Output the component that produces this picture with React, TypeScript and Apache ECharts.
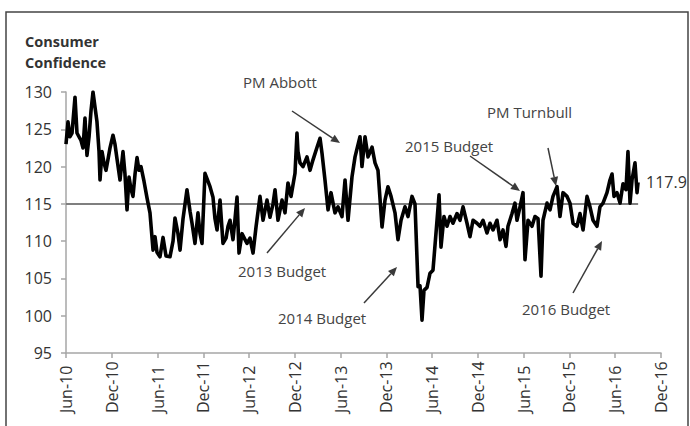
import React, { useEffect, useRef } from "react";
import * as echarts from "echarts";

// Months elapsed since June 2010 (weekly survey readings, sampled)
const months = [
  0, 0.26, 0.52, 0.79, 1.18, 1.44, 1.7, 1.97, 2.23, 2.49, 2.75, 3.02, 3.28, 3.54, 3.8, 4.06, 4.33, 4.46,
  4.72, 4.98, 5.24, 5.51, 5.77, 6.16, 6.42, 6.69, 7.08, 7.47, 7.73, 8.0, 8.26, 8.52, 8.78, 9.05, 9.31,
  9.57, 9.83, 10.23, 10.62, 11.01, 11.41, 11.67, 11.93, 12.32, 12.72, 13.11, 13.63, 14.03, 14.29, 14.68,
  14.95, 15.34, 15.86, 16.26, 16.52, 16.91, 17.3, 17.57, 17.83, 18.22, 18.62, 18.88, 19.27, 19.53, 19.8,
  20.19, 20.58, 20.98, 21.24, 21.5, 21.89, 22.16, 22.42, 22.68, 23.07, 23.47, 23.73, 24.12, 24.52, 24.91,
  25.43, 25.83, 26.35, 26.74, 27.14, 27.4, 27.79, 28.32, 28.71, 29.1, 29.5, 30.02, 30.28, 30.41, 30.68,
  31.07, 31.59, 31.99, 32.38, 32.91, 33.3, 33.56, 33.95, 34.35, 34.74, 35.26, 35.66, 36.18, 36.58, 36.97,
  37.49, 37.89, 38.54, 38.8, 39.2, 39.59, 40.12, 40.51, 40.9, 41.43, 41.82, 42.21, 42.61, 43.13, 43.52,
  43.92, 44.44, 44.83, 45.36, 45.75, 46.15, 46.41, 46.67, 46.93, 47.33, 47.72, 48.11, 48.64, 48.9, 49.16,
  49.55, 49.95, 50.34, 50.73, 51.26, 51.65, 52.05, 52.57, 52.96, 53.36, 53.88, 54.27, 54.67, 55.19, 55.58,
  55.98, 56.5, 56.9, 57.29, 57.68, 57.94, 58.47, 58.86, 59.12, 59.52, 59.91, 60.17, 60.57, 61.09, 61.48,
  61.88, 62.27, 62.53, 63.06, 63.45, 63.84, 64.37, 64.76, 65.15, 65.68, 66.07, 66.47, 66.99, 67.38, 67.78,
  68.3, 68.69, 69.09, 69.61, 70.0, 70.4, 70.92, 71.31, 71.58, 71.84, 72.23, 72.63, 73.02, 73.41, 73.67,
  73.94, 74.2, 74.59, 74.86, 74.99,
];

// Consumer confidence index readings
const values = [
  123, 126, 124, 124.5, 129.3, 124.5, 124, 123.5, 122.5, 126.5, 121.5, 124, 127.5, 130, 128, 126, 122, 118.2,
  122, 120.5, 119.5, 121, 122.5, 124.2, 123, 121, 118.2, 122, 119, 114.2, 118.6, 117, 116, 119, 121.2,
  119.5, 120, 118, 115.8, 113.8, 108.8, 110.6, 108.5, 107.9, 110.5, 108, 107.9, 110, 113.1, 111,
  108.8, 113, 116.9, 114, 112.4, 109.7, 113.8, 111, 109.7, 119.1, 118, 117.3, 115.9, 113, 111.5,
  115.5, 109.7, 110.4, 112, 112.8, 110.2, 113, 115.9, 108.4, 111, 110.2, 109.7, 110.4, 108.4, 111.9,
  116, 112.8, 115.5, 113.2, 115, 116.9, 112.8, 115.5, 113.8, 117.8, 116, 119.1, 124.5, 122, 120.5,
  120, 121.3, 119.5, 120.9, 122.6, 123.8, 121.8, 118.2, 114.2, 116.5, 113.8, 114.6, 113.3, 118.2, 112.8,
  118.6, 121.3, 124, 120, 124, 121.3, 122.6, 120.5, 119.5, 111.9, 115.5, 117.3, 116, 113.8, 110.2,
  112.8, 114.6, 113.3, 116, 115, 103.9, 104, 99.4, 103.4, 103.8, 105.7, 106.1, 112.8, 116.2, 109.2,
  113.3, 112, 113.3, 112.4, 113.7, 112.8, 114.6, 112.4, 110.6, 112.8, 112.4, 112, 112.8, 111.1, 112.4,
  111.5, 112.8, 110.2, 111.5, 109.3, 112, 113.7, 115.1, 112.8, 114.6, 116.5, 107.5, 112.8, 112, 113.3,
  113, 105.3, 112.8, 115.1, 114.2, 116, 117.3, 113.3, 116.5, 116, 115.1, 112.4, 112, 113.7, 111.5,
  116, 114.6, 112.8, 112, 114.6, 115.1, 116.5, 118.2, 119, 116, 116.5, 115.1, 117.7, 116.9, 122,
  115.1, 118.2, 120.5, 116.5, 117.9,
];

const xTickLabels = [
  "Jun-10", "Dec-10", "Jun-11", "Dec-11", "Jun-12", "Dec-12", "Jun-13",
  "Dec-13", "Jun-14", "Dec-14", "Jun-15", "Dec-15", "Jun-16", "Dec-16",
];

const referenceLevel = 115;
const referenceEnd = 75;

const yMin = 95;
const yMax = 130;
const yStep = 5;

const titleLines = ["Consumer", "Confidence"];

const annotationTexts = ["PM Abbott", "2013 Budget", "2014 Budget", "2015 Budget", "PM Turnbull", "2016 Budget"];
// layout for annotations: [textLeft, textCenterY, arrowTailX, arrowTailY, arrowTipX, arrowTipY]
const annotationLayout = [
  [243, 82, 292, 111, 340, 143],
  [238, 271, 267, 253, 305, 208],
  [278, 318, 364, 303, 397, 267],
  [405, 146, 470, 156, 520, 191],
  [487, 112, 548, 148, 556, 186],
  [522, 309, 573, 293, 602, 241],
];

const FONT = "'Open Sans', 'DejaVu Sans', sans-serif";
const TEXT_COLOR = "#333";

function arrow(x1: number, y1: number, x2: number, y2: number) {
  const dx = x2 - x1;
  const dy = y2 - y1;
  const len = Math.sqrt(dx * dx + dy * dy);
  const ux = dx / len;
  const uy = dy / len;
  const headLen = 9;
  const headHalf = 4;
  const bx = x2 - ux * headLen;
  const by = y2 - uy * headLen;
  const px = -uy * headHalf;
  const py = ux * headHalf;
  return [
    {
      type: "line",
      shape: { x1, y1, x2: bx, y2: by },
      style: { stroke: "#3a3a3a", lineWidth: 1.5 },
    },
    {
      type: "polygon",
      shape: { points: [[x2, y2], [bx + px, by + py], [bx - px, by - py]] },
      style: { fill: "#3a3a3a" },
    },
  ];
}

export default function App() {
  const ref = useRef<HTMLDivElement>(null);

  useEffect(() => {
    if (!ref.current) return;
    const chart = echarts.init(ref.current, undefined, { renderer: "svg" });

    const graphics: any[] = [
      {
        type: "rect",
        shape: { x: 6, y: 12, width: 682, height: 440 },
        style: { fill: "none", stroke: "#444", lineWidth: 1.5 },
        silent: true,
      },
    ];
    titleLines.forEach((t, i) => {
      graphics.push({
        type: "text",
        x: 25,
        y: 41 + i * 21,
        style: {
          text: t,
          font: `bold 14.5px ${FONT}`,
          fill: "#333",
          textAlign: "left",
          textVerticalAlign: "middle",
        },
      });
    });
    annotationTexts.forEach((t, i) => {
      const [tx, ty, ax1, ay1, ax2, ay2] = annotationLayout[i];
      graphics.push({
        type: "text",
        x: tx,
        y: ty,
        style: {
          text: t,
          font: `15px ${FONT}`,
          fill: "#444",
          textAlign: "left",
          textVerticalAlign: "middle",
        },
      });
      graphics.push(...arrow(ax1, ay1, ax2, ay2));
    });

    const axisLineStyle = { color: "#a6a6a6", width: 1.5 };

    chart.setOption({
      animation: false,
      backgroundColor: "#fff",
      grid: { left: 66, right: 29, top: 92, bottom: 73 },
      xAxis: {
        type: "value",
        min: 0,
        max: (xTickLabels.length - 1) * 6,
        interval: 6,
        axisLine: { show: true, onZero: false, lineStyle: axisLineStyle },
        axisTick: { show: true, length: 5, lineStyle: axisLineStyle },
        splitLine: { show: false },
        axisLabel: {
          rotate: 90,
          align: "left",
          verticalAlign: "middle",
          margin: 60,
          fontFamily: FONT,
          fontSize: 16,
          color: TEXT_COLOR,
          formatter: (v: number) => xTickLabels[Math.round(v / 6)] ?? "",
        },
      },
      yAxis: {
        type: "value",
        min: yMin,
        max: yMax,
        interval: yStep,
        axisLine: { show: true, lineStyle: axisLineStyle },
        axisTick: { show: true, length: 5, lineStyle: axisLineStyle },
        splitLine: { show: false },
        axisLabel: {
          margin: 14,
          fontFamily: FONT,
          fontSize: 16,
          color: TEXT_COLOR,
        },
      },
      series: [
        {
          type: "line",
          data: months.map((m, i) => [m, values[i]]),
          showSymbol: false,
          symbol: "none",
          lineStyle: { color: "#000", width: 3.6, join: "round" },
          z: 3,
          endLabel: {
            show: true,
            distance: 8,
            fontFamily: FONT,
            fontSize: 16,
            color: TEXT_COLOR,
            formatter: (p: any) => Number(p.value[1]).toFixed(1),
          },
          markLine: {
            silent: true,
            symbol: ["none", "none"],
            lineStyle: { color: "#7f7f7f", width: 2, type: "solid" },
            label: { show: false },
            z: 2,
            data: [[{ coord: [0, referenceLevel] }, { coord: [referenceEnd, referenceLevel] }]],
          },
        },
      ],
      graphic: graphics,
    });

    return () => chart.dispose();
  }, []);

  return (
    <div
      ref={ref}
      style={{ position: "absolute", left: 0, top: 0, width: 690, height: 426, background: "#fff" }}
    />
  );
}
